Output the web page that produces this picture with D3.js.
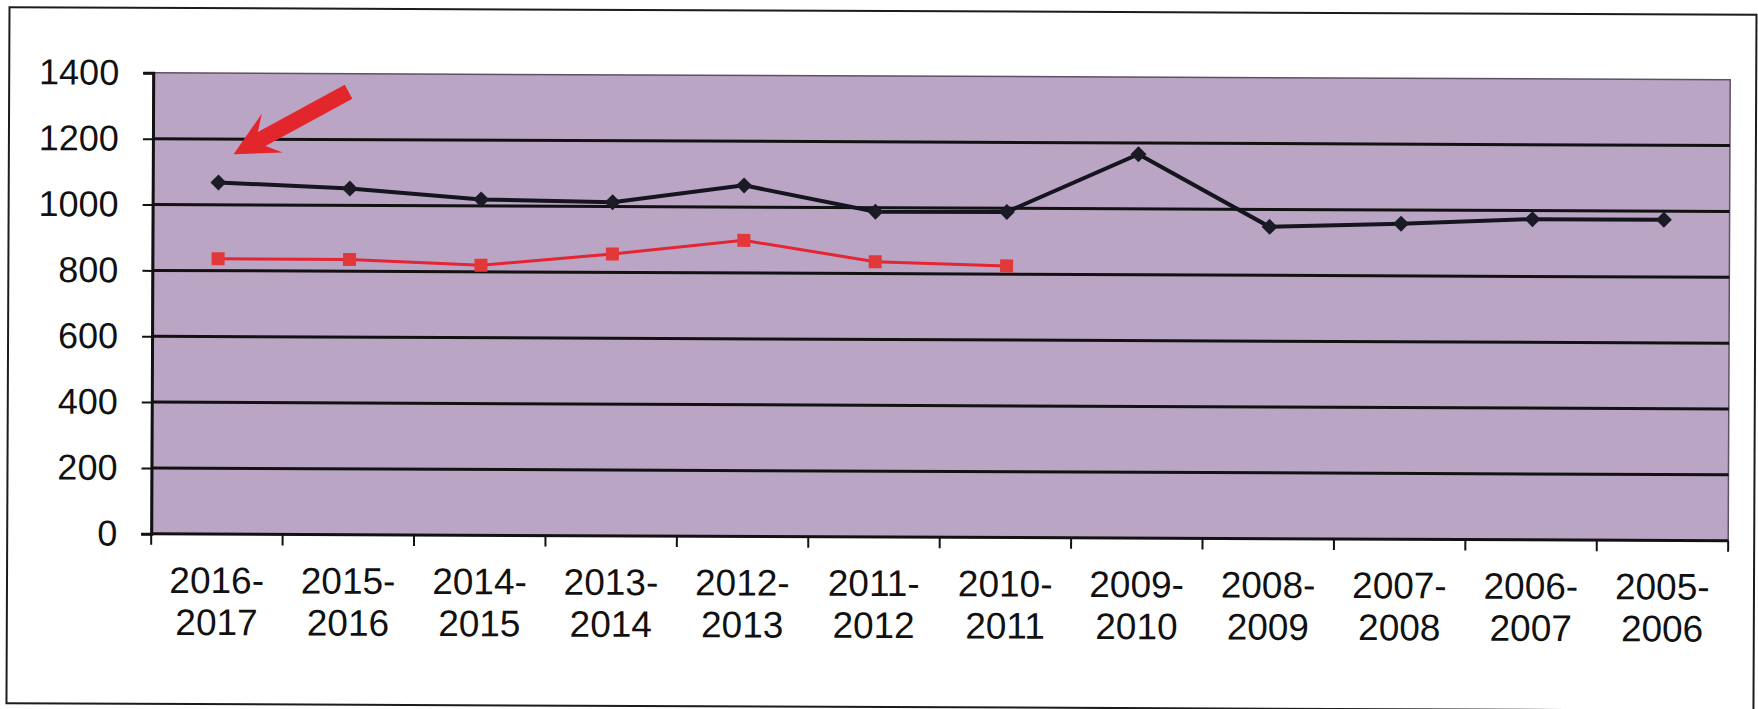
<!DOCTYPE html>
<html>
<head>
<meta charset="utf-8">
<script src="https://cdn.jsdelivr.net/npm/d3@7"></script>
<style>
body{margin:0;background:#fff}
svg{display:block}
text{font-family:"Liberation Sans",Arial,sans-serif;fill:#111}
</style>
</head>
<body>
<svg></svg>
<script>
var seasons = ["2016-2017", "2015-2016", "2014-2015", "2013-2014", "2012-2013", "2011-2012",
               "2010-2011", "2009-2010", "2008-2009", "2007-2008", "2006-2007", "2005-2006"];
var blackSeries = [1068, 1051, 1020, 1013, 1066, 988, 989, 1166, 947, 958, 974, 974];
var redSeries = [836, 836, 820, 856, 899, 836, 825, null, null, null, null, null];
var yTicks = [0, 200, 400, 600, 800, 1000, 1200, 1400];

var width = 1758, height = 709;
var plotL = 152, plotR = 1729, plotT = 76, plotB = 537;

var svg = d3.select("svg").attr("width", width).attr("height", height);
// the scan is a little crooked, tilt the whole thing
var g = svg.append("g").attr("transform", "rotate(0.25, 879, 354)");

g.append("rect")
    .attr("x", 8).attr("y", 11)
    .attr("width", 1747).attr("height", 696)
    .attr("fill", "#fff").attr("stroke", "#1c1c1c").attr("stroke-width", 2);

var x = d3.scaleBand().domain(seasons).range([plotL, plotR]);
var y = d3.scaleLinear().domain([0, 1400]).range([plotB, plotT]);
var cx = function(d){ return x(d) + x.bandwidth() / 2; };

// plot area
g.append("rect")
    .attr("x", plotL).attr("y", plotT)
    .attr("width", plotR - plotL).attr("height", plotB - plotT)
    .attr("fill", "#bba5c5")
    .attr("stroke", "#5e5068").attr("stroke-width", 1.5);

// grid lines
g.selectAll("line.grid")
    .data(yTicks.filter(function(d){ return d > 0 && d < 1400; }))
    .enter().append("line")
        .attr("class", "grid")
        .attr("x1", plotL).attr("x2", plotR)
        .attr("y1", function(d){ return y(d); })
        .attr("y2", function(d){ return y(d); })
        .attr("stroke", "#121212").attr("stroke-width", 3);

// y axis
var yAxis = g.append("g")
    .attr("transform", "translate(" + plotL + ",0)")
    .call(d3.axisLeft(y).tickValues(yTicks).tickFormat(d3.format("d")).tickSize(10).tickPadding(24));
yAxis.select(".domain").attr("stroke", "#121212").attr("stroke-width", 3);
yAxis.selectAll(".tick line").attr("stroke", "#121212").attr("stroke-width", 2);
yAxis.selectAll(".tick text")
    .attr("font-size", 36).attr("fill", "#111")
    .style("font-family", "'Liberation Sans', Arial, sans-serif");

// x axis line + ticks at category borders
g.append("line")
    .attr("x1", plotL).attr("x2", plotR)
    .attr("y1", plotB).attr("y2", plotB)
    .attr("stroke", "#121212").attr("stroke-width", 3);
var borders = seasons.map(function(d){ return x(d); }).concat([plotR]);
g.selectAll("line.xtick")
    .data(borders)
    .enter().append("line")
        .attr("class", "xtick")
        .attr("x1", function(d){ return d; }).attr("x2", function(d){ return d; })
        .attr("y1", plotB).attr("y2", plotB + 11)
        .attr("stroke", "#121212").attr("stroke-width", 2);

var lbl = g.selectAll("text.xlab")
    .data(seasons)
    .enter().append("text")
        .attr("class", "xlab")
        .attr("text-anchor", "middle")
        .attr("font-size", 37);
lbl.append("tspan")
    .attr("x", cx).attr("y", 596)
    .text(function(d){ return d.split("-")[0] + "-"; });
lbl.append("tspan")
    .attr("x", cx).attr("y", 638)
    .text(function(d){ return d.split("-")[1]; });

// series
var line = d3.line()
    .defined(function(d){ return d[1] != null; })
    .x(function(d){ return cx(d[0]); })
    .y(function(d){ return y(d[1]); });

var blackData = seasons.map(function(s, i){ return [s, blackSeries[i]]; });
var redData = seasons.map(function(s, i){ return [s, redSeries[i]]; });

g.append("path")
    .datum(blackData)
    .attr("d", line)
    .attr("fill", "none").attr("stroke", "#15151f").attr("stroke-width", 4);
g.selectAll("path.diamond")
    .data(blackData)
    .enter().append("path")
        .attr("class", "diamond")
        .attr("d", "M0,-8L8,0L0,8L-8,0Z")
        .attr("transform", function(d){ return "translate(" + cx(d[0]) + "," + y(d[1]) + ")"; })
        .attr("fill", "#1b1b26");

g.append("path")
    .datum(redData)
    .attr("d", line)
    .attr("fill", "none").attr("stroke", "#e42533").attr("stroke-width", 3);
g.selectAll("rect.sq")
    .data(redData.filter(function(d){ return d[1] != null; }))
    .enter().append("rect")
        .attr("class", "sq")
        .attr("x", function(d){ return cx(d[0]) - 6.5; })
        .attr("y", function(d){ return y(d[1]) - 6.5; })
        .attr("width", 13).attr("height", 13)
        .attr("fill", "#e2383a");

// red arrow pointing at the first season
var tip = [cx(seasons[0]) + 15, y(1154)];
var tail = [x(seasons[1]) + 64, y(1345)];
var dx = tip[0] - tail[0], dy = tip[1] - tail[1];
var len = Math.sqrt(dx * dx + dy * dy);
var ux = dx / len, uy = dy / len, nx = -uy, ny = ux;
var notch = 32, barb = 44, hw = 22, sw = 8;
var nxp = tip[0] - ux * notch, nyp = tip[1] - uy * notch;
var bx = tip[0] - ux * barb, by = tip[1] - uy * barb;
var pts = [
    [tail[0] + nx * sw, tail[1] + ny * sw],
    [nxp + nx * sw, nyp + ny * sw],
    [bx + nx * hw, by + ny * hw],
    tip,
    [bx - nx * hw, by - ny * hw],
    [nxp - nx * sw, nyp - ny * sw],
    [tail[0] - nx * sw, tail[1] - ny * sw]
];
g.append("path")
    .attr("d", "M" + pts.join("L") + "Z")
    .attr("fill", "#e3262c");
</script>
</body>
</html>
